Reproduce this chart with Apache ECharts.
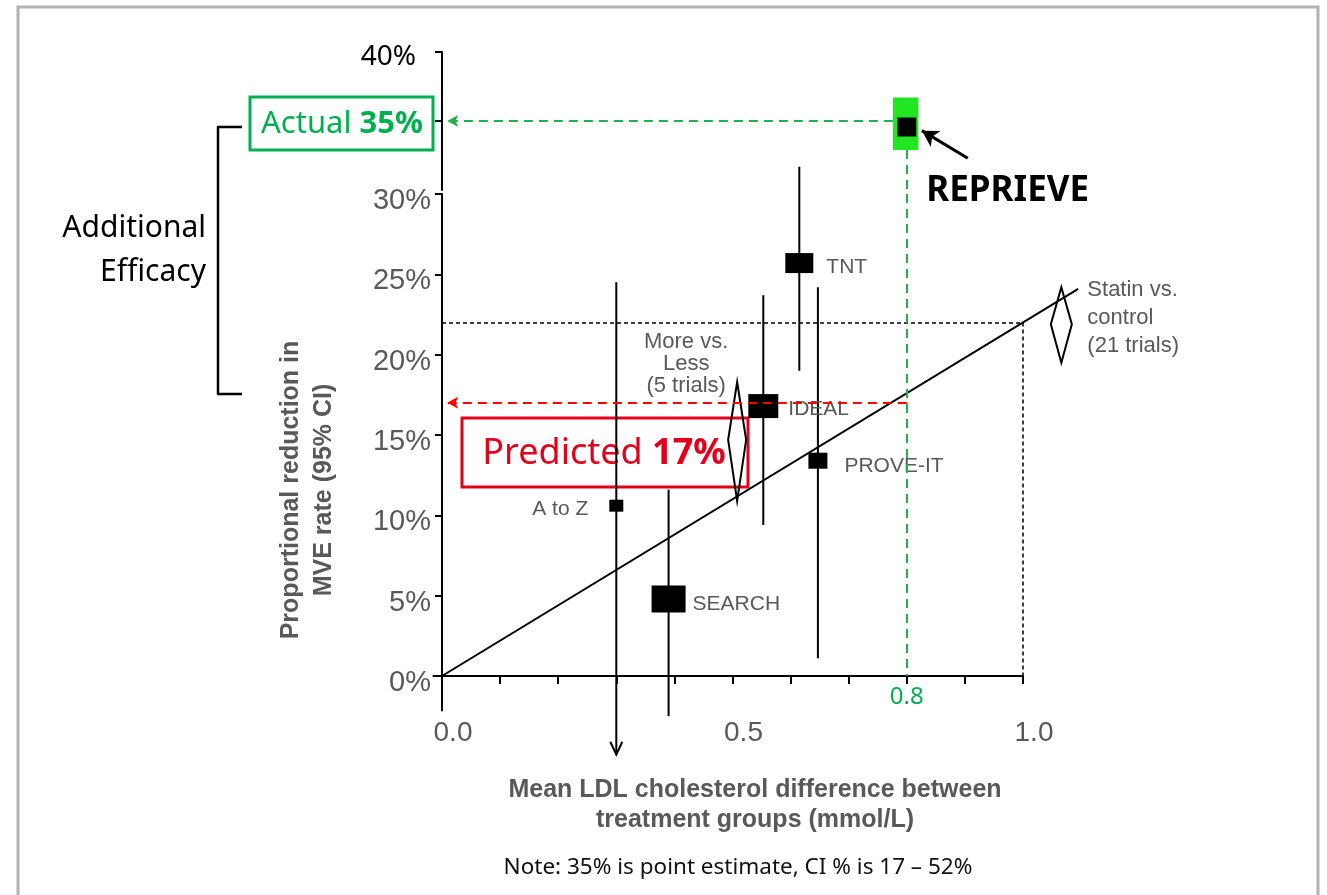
<!DOCTYPE html>
<html>
<head>
<meta charset="utf-8">
<script src="https://cdn.jsdelivr.net/npm/echarts@6/dist/echarts.min.js"></script>
<style>
  html, body { margin: 0; padding: 0; background: #fff; }
  #chart { width: 1327px; height: 895px; }
</style>
</head>
<body>
<div id="chart"></div>
<script>
// ---- data ----
const trialNames = ['A to Z', 'SEARCH', 'IDEAL', 'TNT', 'PROVE-IT'];
const trialLdlDiff = [0.30, 0.39, 0.553, 0.615, 0.647];      // mmol/L
const trialReduction = [10.6, 4.8, 16.8, 25.7, 13.4];       // % reduction in MVE rate
const trialCiLow = [-4.9, -2.5, 9.4, 19.0, 1.1];
const trialCiHigh = [24.5, 11.6, 23.7, 31.7, 24.2];
const trialCiTruncated = [true, false, false, false, false];

const metaNames = ['More vs.\nLess\n(5 trials)', 'Statin vs.\ncontrol\n(21 trials)'];
const metaLdlDiff = [0.508, 1.066];
const metaReduction = [14.7, 21.9];
const metaCiLow = [10.9, 19.5];
const metaCiHigh = [18.3, 24.2];

const reprieveName = 'REPRIEVE';
const reprieveLdlDiff = 0.8;
const reprieveActual = 35;
const predictedReduction = 17;
const statinSlope = 22;          // % reduction per 1 mmol/L
const statinLineEnd = 1.095;      // mmol/L where the fitted line stops
const referenceLdl = 1.0;

const lowerYRange = [0, 30];
const upperYRange = [30, 40];
const upperYLabelled = [40];
const xLabelled = [0, 0.5, 1.0];

// ---- styling ----
const GREY = '#595959';
const GREEN_LINE = '#22b04b';
const GREEN_TEXT = '#00b050';
const RED = '#e3001b';
const ARIAL = '"Liberation Sans", Arial, sans-serif';
const SANS = '"Noto Sans", "Open Sans", sans-serif';

const boxSize = { 'A to Z': [14, 12], 'SEARCH': [34, 27], 'IDEAL': [30, 24], 'TNT': [28, 20], 'PROVE-IT': [19, 16] };
const boxLabel = {
  'A to Z':   { position: 'left',  distance: 21, offset: [0, 4] },
  'SEARCH':   { position: 'right', distance: 7,  offset: [0, 5] },
  'IDEAL':    { position: 'right', distance: 10, offset: [0, 3] },
  'TNT':      { position: 'right', distance: 13, offset: [0, 4] },
  'PROVE-IT': { position: 'right', distance: 17, offset: [0, 5] }
};
const diamondHalfWidth = [9, 10.5];
const metaLabelLayout = [
  { dx: -51, dy: 15, align: 'center', va: 'bottom', lineHeight: 22 },
  { dx: 26, dy: -11, align: 'left', va: 'top', lineHeight: 28 }
];
const highlightBox = [[0.776, 32.9], [0.82, 36.7]];
const pointerArrow = [[0.905, 32.3], [0.826, 34.3]];
const axisStub = { xLeft: -0.016, yBelow: -2.2 };

const chart = echarts.init(document.getElementById('chart'), null, { renderer: 'canvas' });

const trialData = trialNames.map((n, i) => ({ name: n, value: [trialLdlDiff[i], trialReduction[i]] }));
const ciData = trialNames.map((n, i) => [trialLdlDiff[i], trialCiLow[i], trialCiHigh[i], trialCiTruncated[i] ? 1 : 0]);
const metaData = metaNames.map((n, i) => [metaLdlDiff[i], metaReduction[i], metaCiLow[i], metaCiHigh[i]]);
// straight segment: [x1, y1, x2, y2]
const fitSegments = [[0, 0, statinLineEnd, statinSlope * statinLineEnd]];

const axisLineStyle = { color: '#000', width: 2 };

function segmentRenderer(width) {
  return (params, api) => {
    const a = api.coord([api.value(0), api.value(1)]);
    const b = api.coord([api.value(2), api.value(3)]);
    return {
      type: 'line', shape: { x1: a[0], y1: a[1], x2: b[0], y2: b[1] },
      style: { stroke: '#000', lineWidth: width, lineCap: 'butt' }
    };
  };
}

const option = {
  animation: false,
  backgroundColor: '#fff',
  grid: [
    { left: 442, top: 194, width: 581, height: 482 },
    { left: 442, top: 52, width: 581, height: 138 }
  ],
  xAxis: [
    {
      gridIndex: 0, type: 'value', min: 0, max: 1, interval: 0.1,
      axisLine: { lineStyle: axisLineStyle },
      axisTick: { show: true, inside: false, length: 8, lineStyle: { color: '#000', width: 2 } },
      splitLine: { show: false },
      axisLabel: {
        color: GREY, fontFamily: ARIAL, fontSize: 28, margin: 43, padding: [0, 0, 0, 22],
        formatter: v => xLabelled.some(t => Math.abs(t - v) < 1e-6) ? v.toFixed(1) : ''
      }
    },
    { gridIndex: 1, type: 'value', min: 0, max: 1, show: false }
  ],
  yAxis: [
    {
      gridIndex: 0, type: 'value', min: lowerYRange[0], max: lowerYRange[1], interval: 5,
      axisLine: { show: true, lineStyle: axisLineStyle },
      axisTick: { show: true, inside: false, length: 7, lineStyle: { color: '#000', width: 2 } },
      splitLine: { show: false },
      axisLabel: {
        margin: 11,
        formatter: v => '{v|' + v + '%}',
        rich: { v: { color: GREY, fontFamily: ARIAL, fontSize: 29, padding: [14, 0, 0, 0] } }
      }
    },
    {
      gridIndex: 1, type: 'value', min: upperYRange[0], max: upperYRange[1], interval: 5,
      axisLine: { show: true, lineStyle: axisLineStyle },
      axisTick: { show: true, inside: false, length: 7, customValues: [35, 40], lineStyle: { color: '#000', width: 2 } },
      splitLine: { show: false },
      axisLabel: {
        margin: 26,
        customValues: upperYLabelled,
        formatter: v => upperYLabelled.indexOf(v) >= 0 ? '{v|' + v + '%}' : '',
        rich: { v: { color: '#000', fontFamily: SANS, fontSize: 28, padding: [11, 0, 0, 0] } }
      }
    }
  ],
  series: [
    // fitted statin line (runs past the 1 mmol/L edge)
    {
      name: 'Statin fit', type: 'custom', xAxisIndex: 0, yAxisIndex: 0, silent: true, z: 3,
      data: fitSegments, renderItem: segmentRenderer(2),
      markLine: {
        silent: true, symbol: 'none', label: { show: false },
        lineStyle: { color: '#000', width: 1.5, type: [4, 3] },
        data: [
          [{ coord: [0, statinSlope * referenceLdl] }, { coord: [referenceLdl, statinSlope * referenceLdl] }],
          [{ coord: [referenceLdl, statinSlope * referenceLdl] }, { coord: [referenceLdl, 0] }]
        ]
      }
    },
    // predicted and REPRIEVE guide lines (lower panel)
    {
      name: 'Guides', type: 'line', xAxisIndex: 0, yAxisIndex: 0, silent: true, data: [],
      markLine: {
        silent: true, symbol: 'none', label: { show: false },
        data: [
          [
            { coord: [reprieveLdlDiff, predictedReduction], symbol: 'none', lineStyle: { color: '#ff0000', width: 2, type: [9, 6] } },
            { coord: [0.009, predictedReduction], symbol: 'arrow', symbolSize: [9, 11] }
          ],
          [
            {
              coord: [reprieveLdlDiff, upperYRange[0]], symbol: 'none',
              lineStyle: { color: GREEN_LINE, width: 2, type: [9, 6] },
              label: { show: true, position: 'end', distance: 9, formatter: reprieveLdlDiff.toFixed(1), color: GREEN_TEXT, fontFamily: SANS, fontSize: 24 }
            },
            { coord: [reprieveLdlDiff, 0], symbol: 'none' }
          ]
        ]
      }
    },
    // confidence intervals
    {
      name: 'CI', type: 'custom', xAxisIndex: 0, yAxisIndex: 0, silent: true, z: 3,
      data: ciData,
      renderItem: (params, api) => {
        const x = api.value(0), lo = api.value(1), hi = api.value(2);
        const top = api.coord([x, hi]);
        const bot = api.coord([x, lo]);
        const children = [{
          type: 'line', shape: { x1: top[0], y1: top[1], x2: bot[0], y2: bot[1] },
          style: { stroke: '#000', lineWidth: 2 }
        }];
        if (api.value(3)) {
          children.push({
            type: 'polyline',
            shape: { points: [[bot[0] - 6, bot[1] - 13], [bot[0], bot[1]], [bot[0] + 6, bot[1] - 13]] },
            style: { stroke: '#000', lineWidth: 2, fill: 'rgba(0,0,0,0)' }
          });
        }
        return { type: 'group', children };
      }
    },
    // trial point estimates
    {
      name: 'Trials', type: 'scatter', xAxisIndex: 0, yAxisIndex: 0, silent: true, z: 4,
      symbol: 'rect',
      symbolSize: (v, p) => boxSize[p.name],
      itemStyle: { color: '#000', opacity: 1 },
      data: trialData.map(d => Object.assign({}, d, {
        label: Object.assign({
          show: true, formatter: '{b}', color: GREY, fontFamily: ARIAL, fontSize: 21
        }, boxLabel[d.name])
      }))
    },
    // pooled estimates
    {
      name: 'Meta', type: 'custom', xAxisIndex: 0, yAxisIndex: 0, silent: true, z: 3,
      data: metaData,
      renderItem: (params, api) => {
        const i = params.dataIndex;
        const x = api.value(0), est = api.value(1), lo = api.value(2), hi = api.value(3);
        const top = api.coord([x, hi]);
        const bot = api.coord([x, lo]);
        const mid = api.coord([x, est]);
        const hw = diamondHalfWidth[i];
        const lay = metaLabelLayout[i];
        return {
          type: 'group',
          children: [
            {
              type: 'polygon',
              shape: { points: [[top[0], top[1]], [mid[0] + hw, mid[1]], [bot[0], bot[1]], [mid[0] - hw, mid[1]]] },
              style: { stroke: '#000', lineWidth: 2, fill: 'rgba(0,0,0,0)' }
            },
            {
              type: 'text', x: top[0] + lay.dx, y: top[1] + lay.dy,
              style: {
                text: metaNames[i], fill: GREY, fontFamily: ARIAL, fontSize: 22, lineHeight: lay.lineHeight,
                align: lay.align, verticalAlign: lay.va
              }
            }
          ]
        };
      }
    },
    // highlight behind REPRIEVE
    {
      name: 'Highlight', type: 'line', xAxisIndex: 1, yAxisIndex: 1, silent: true, data: [],
      markArea: {
        silent: true,
        itemStyle: { color: '#22e622', opacity: 1 },
        data: [[{ coord: highlightBox[0] }, { coord: highlightBox[1] }]]
      }
    },
    // REPRIEVE observed result
    {
      name: reprieveName, type: 'scatter', xAxisIndex: 1, yAxisIndex: 1, silent: true, z: 6,
      symbol: 'rect', symbolSize: [19, 19], symbolOffset: [0, 6],
      itemStyle: { color: '#000', opacity: 1 },
      data: [{ name: reprieveName, value: [reprieveLdlDiff, reprieveActual] }],
      label: {
        show: true, formatter: '{b}', position: 'right', distance: 10, offset: [0, 64],
        color: '#000', fontFamily: SANS, fontWeight: 'bold', fontSize: 35
      },
      markLine: {
        silent: true, label: { show: false },
        data: [
          [
            { coord: [highlightBox[0][0], reprieveActual], symbol: 'none', lineStyle: { color: GREEN_LINE, width: 2, type: [9, 6] } },
            { coord: [0.009, reprieveActual], symbol: 'arrow', symbolSize: [9, 11] }
          ],
          [
            { coord: [reprieveLdlDiff, highlightBox[0][1]], symbol: 'none', lineStyle: { color: GREEN_LINE, width: 2, type: [9, 6] } },
            { coord: [reprieveLdlDiff, upperYRange[0]], symbol: 'none' }
          ],
          [
            { coord: pointerArrow[0], symbol: 'none', lineStyle: { color: '#000', width: 3, type: 'solid' } },
            { coord: pointerArrow[1], symbol: 'arrow', symbolSize: [14, 16] }
          ]
        ]
      }
    }
  ],
  graphic: [
    { type: 'rect', silent: true, shape: { x: 18, y: 7, width: 1300, height: 900 }, style: { fill: null, stroke: '#b3b3b3', lineWidth: 3 } },
    {
      type: 'text', silent: true, x: 206, y: 250,
      style: { text: 'Additional\nEfficacy', fill: '#000', fontFamily: SANS, fontSize: 30, lineHeight: 44, align: 'right', verticalAlign: 'middle' }
    },
    {
      type: 'polyline', silent: true,
      shape: { points: [[242, 127], [218, 127], [218, 394], [242, 394]] },
      style: { fill: null, stroke: '#000', lineWidth: 2.5, lineJoin: 'round' }
    },
    { type: 'rect', silent: true, shape: { x: 250, y: 97, width: 183, height: 53 }, style: { fill: '#fff', stroke: GREEN_TEXT, lineWidth: 3 } },
    {
      type: 'text', silent: true, x: 342, y: 124,
      style: {
        text: '{r|Actual }{b|' + reprieveActual + '%}', align: 'center', verticalAlign: 'middle',
        rich: {
          r: { fill: GREEN_TEXT, fontFamily: SANS, fontSize: 31 },
          b: { fill: GREEN_TEXT, fontFamily: SANS, fontSize: 31, fontWeight: 'bold' }
        }
      }
    },
    { type: 'rect', silent: true, shape: { x: 462, y: 418, width: 286, height: 69 }, style: { fill: null, stroke: RED, lineWidth: 3 } },
    {
      type: 'text', silent: true, x: 604, y: 454,
      style: {
        text: '{r|Predicted }{b|' + predictedReduction + '%}', align: 'center', verticalAlign: 'middle',
        rich: {
          r: { fill: RED, fontFamily: SANS, fontSize: 36 },
          b: { fill: RED, fontFamily: SANS, fontSize: 36, fontWeight: 'bold' }
        }
      }
    },
    {
      type: 'text', silent: true, x: 308, y: 490, rotation: Math.PI / 2,
      style: {
        text: 'Proportional reduction in\nMVE rate (95% CI)', fill: GREY, fontFamily: ARIAL, fontWeight: 'bold',
        fontSize: 25, lineHeight: 33, align: 'center', verticalAlign: 'middle'
      }
    },
    {
      type: 'text', silent: true, x: 755, y: 805,
      style: {
        text: 'Mean LDL cholesterol difference between\ntreatment groups (mmol/L)', fill: GREY, fontFamily: ARIAL, fontWeight: 'bold',
        fontSize: 25, lineHeight: 30, align: 'center', verticalAlign: 'middle'
      }
    },
    {
      type: 'text', silent: true, x: 738, y: 868,
      style: { text: 'Note: 35% is point estimate, CI % is 17 – 52%', fill: '#111', fontFamily: SANS, fontSize: 22.5, align: 'center', verticalAlign: 'middle' }
    }
  ]
};

chart.setOption(option);

// short axis extensions crossing at the origin
const origin = chart.convertToPixel({ gridIndex: 0 }, [0, 0]);
const stubLeft = chart.convertToPixel({ gridIndex: 0 }, [axisStub.xLeft, 0]);
const stubDown = chart.convertToPixel({ gridIndex: 0 }, [0, axisStub.yBelow]);
chart.setOption({
  graphic: [
    { id: 'stub-x', type: 'line', silent: true, z: 10, shape: { x1: stubLeft[0], y1: origin[1], x2: origin[0], y2: origin[1] }, style: { stroke: '#000', lineWidth: 2 } },
    { id: 'stub-y', type: 'line', silent: true, z: 10, shape: { x1: origin[0], y1: origin[1], x2: origin[0], y2: stubDown[1] }, style: { stroke: '#000', lineWidth: 2 } }
  ]
});
</script>
</body>
</html>
